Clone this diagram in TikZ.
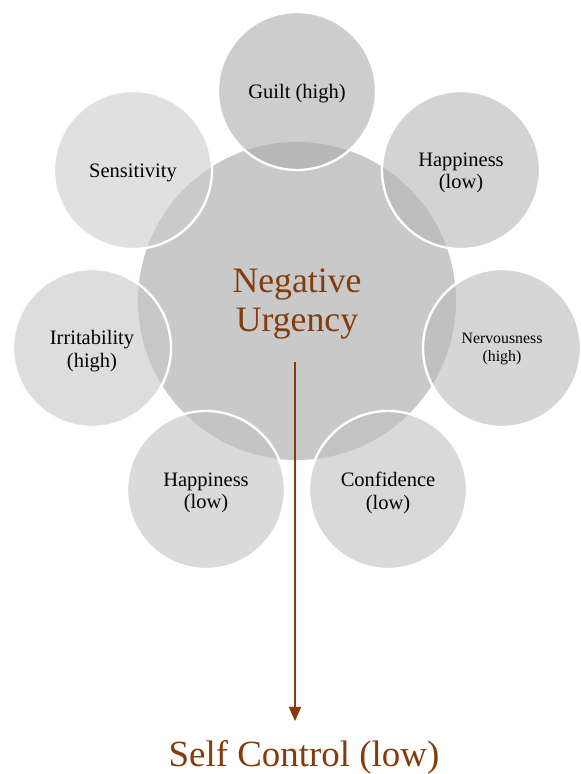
\documentclass[tikz,border=0pt]{standalone}
\usepackage{fontspec}
\setmainfont{Liberation Serif}
\usetikzlibrary{arrows.meta}

\definecolor{rust}{HTML}{843C0C}

\begin{document}
\begin{tikzpicture}[x=0.03cm, y=-0.03cm,
    hub/.style={circle,fill=black!21,minimum size=9.54cm,inner sep=0pt},
    petal/.style={circle,draw=white,line width=2pt,fill opacity=0.6,
        minimum size=4.74cm,inner sep=0pt},
    lbl/.style={align=center,font=\fontsize{17.5}{19.5}\selectfont},
    big/.style={text=rust,align=center,font=\fontsize{30.5}{33}\selectfont}]
\useasboundingbox (0,0) rectangle (581,774);
\node[hub] (nu) at (297,301) {};
\node[petal,fill=black!33] (guilt) at (297,91) {};
\node[petal,fill=black!20] (sens) at (133,170) {};
\node[petal,fill=black!22] (irr) at (92,348) {};
\node[petal,fill=black!24] (hapb) at (206,490) {};
\node[petal,fill=black!25] (conf) at (388,490) {};
\node[petal,fill=black!27] (nerv) at (502,348) {};
\node[petal,fill=black!29] (hapt) at (461,170) {};
% labels, set a little below the centres
\node[big] (nu-t) at ([yshift=-2.5pt]nu) {Negative\\Urgency};
\node[lbl] (guilt-t) at ([yshift=-2.5pt]guilt) {Guilt (high)};
\node[lbl] (sens-t) at ([yshift=-2.5pt]sens) {Sensitivity};
\node[lbl] (irr-t) at ([yshift=-2.5pt]irr) {Irritability\\(high)};
\node[lbl] (hapb-t) at ([yshift=-2.5pt]hapb) {Happiness\\(low)};
\node[lbl] (conf-t) at ([yshift=-2.5pt]conf) {Confidence\\(low)};
\node[lbl,font=\fontsize{13.5}{15}\selectfont] (nerv-t) at ([yshift=-1pt]nerv) {Nervousness\\(high)};
\node[lbl] (hapt-t) at ([yshift=-2.5pt]hapt) {Happiness\\(low)};
% arrow down to the outcome
\coordinate (start) at (295,362);
\node[big,font=\fontsize{31.5}{34}\selectfont] (sc) at (304,757) {Self Control (low)};
\draw[rust,line width=1pt,-{Triangle[width=10.5pt,length=12pt]}] (start) -- (295,721) coordinate (tip);
\end{tikzpicture}
\end{document}
